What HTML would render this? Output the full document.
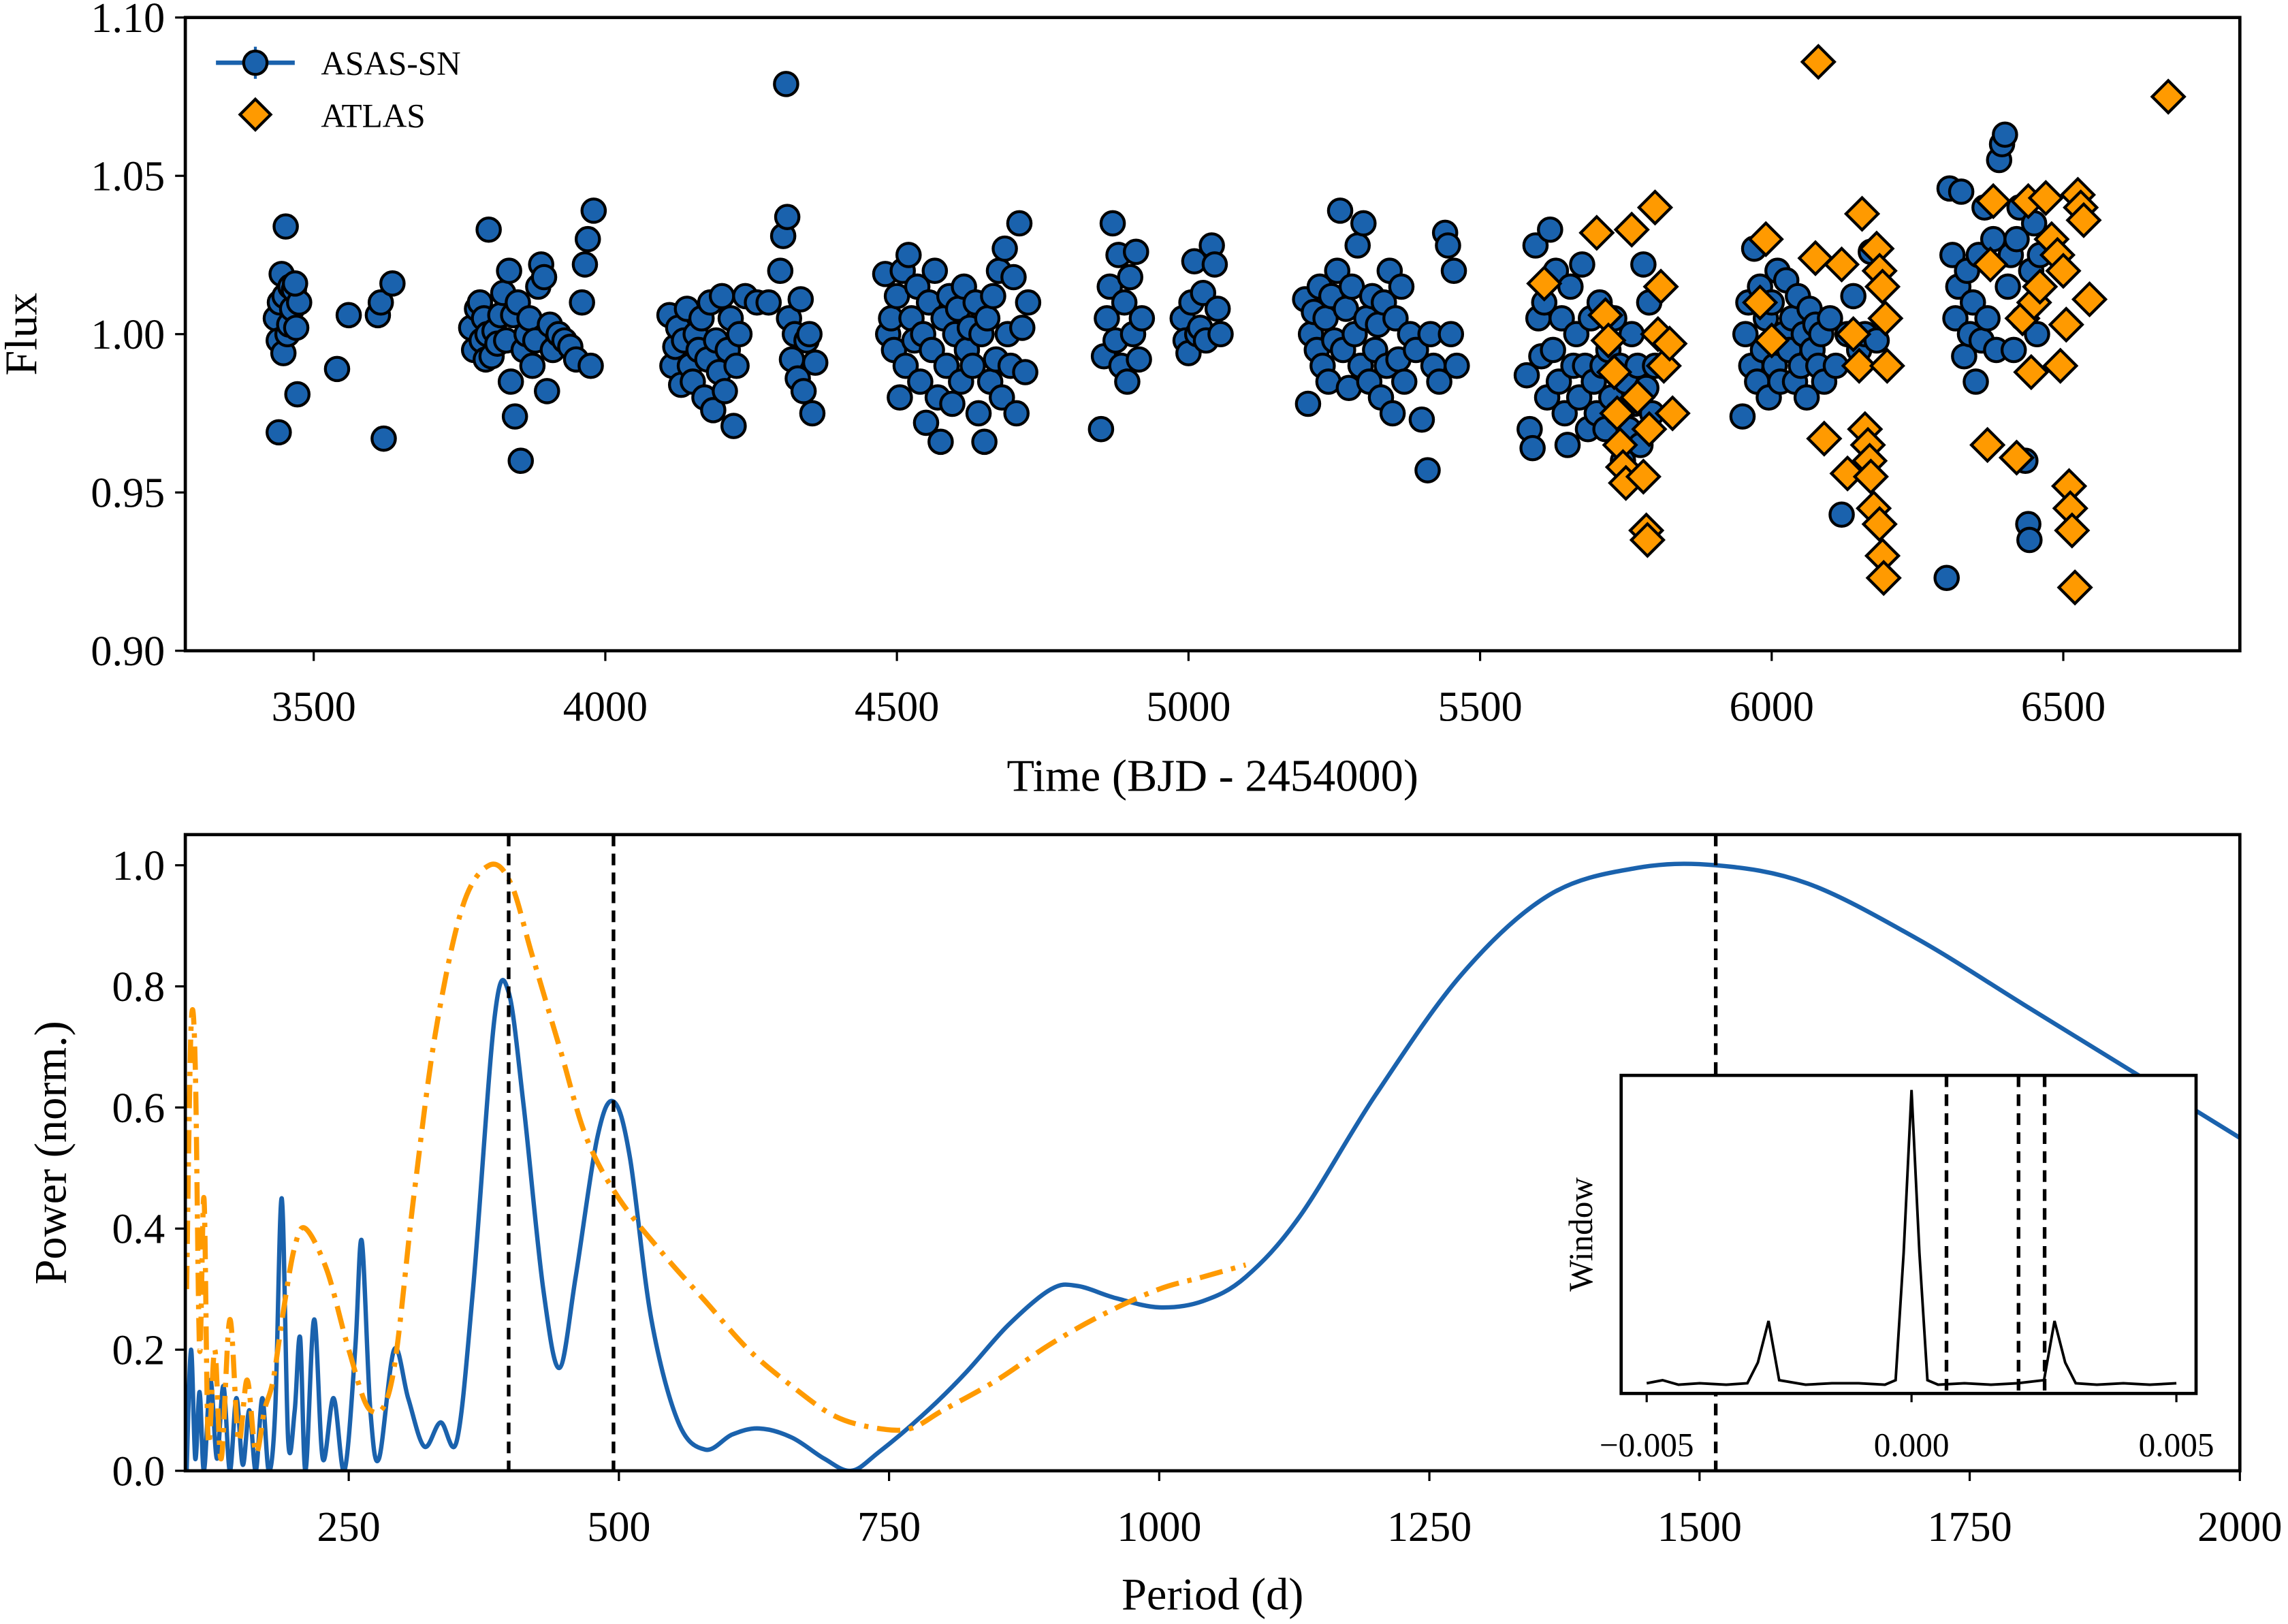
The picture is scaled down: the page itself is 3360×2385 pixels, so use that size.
<!DOCTYPE html>
<html><head><meta charset="utf-8"><style>
html,body{margin:0;padding:0;background:#fff}
svg{display:block}
text{font-family:"Liberation Serif",serif;fill:#000}
</style></head><body>
<svg id="chart" width="3360" height="2385" viewBox="0 0 1568 1113" xmlns="http://www.w3.org/2000/svg">
<rect x="0" y="0" width="1568" height="1113" fill="#fff"/>
<g id="top"></g>
<g id="bot"></g>
<g id="ins"></g>
</svg>
<script>
const asasT=[3435,3440,3442,3445,3448,3450,3452,3455,3458,3460,3463,3466,3470,3472,3440,3475,3468,3540,3560,3610,3620,3615,3635,
3770,3775,3780,3785,3788,3792,3795,3798,3800,3805,3810,3815,3820,3825,3830,3835,3838,3842,3845,3850,3855,3860,3865,3870,3875,3880,3885,3890,3895,3900,3905,3910,3920,3930,3940,3950,3960,3965,3970,3975,3980,
4110,4115,4120,4125,4130,4135,4140,4145,4150,4155,4160,4165,4170,4175,4180,4185,4190,4195,4200,4205,4210,4215,4220,4225,4230,4240,4260,4280,4300,4305,4310,4312,4315,4320,4325,4330,4335,4340,4345,4350,4355,4360,
4480,4485,4490,4495,4500,4505,4510,4515,4520,4525,4530,4535,4540,4545,4550,4555,4560,4565,4570,4575,4580,4585,4590,4595,4600,4605,4610,4615,4620,4625,4630,4635,4640,4645,4650,4655,4660,4665,4670,4675,4680,4685,4690,4695,4700,4705,4710,4715,4720,4725,
4850,4855,4860,4865,4870,4875,4880,4885,4890,4895,4900,4905,4910,4915,4920,4990,4995,5000,5005,5010,5015,5020,5025,5030,5040,5045,5050,5055,
5200,5205,5210,5215,5220,5225,5230,5235,5240,5245,5250,5255,5260,5265,5270,5275,5280,5285,5290,5295,5300,5305,5310,5315,5320,5325,5330,5335,5340,5345,5350,5355,5360,5365,5370,5380,5390,5400,5410,5415,5420,5430,5440,5445,5450,5455,5460,
5580,5585,5590,5595,5600,5605,5610,5615,5620,5625,5630,5635,5640,5645,5650,5655,5660,5665,5670,5675,5680,5685,5690,5695,5700,5705,5710,5715,5720,5725,5730,5735,5740,5745,5750,5755,5760,5765,5770,5775,5780,5785,5790,5795,5800,
5950,5955,5960,5965,5970,5975,5980,5985,5990,5995,6000,6005,6010,6015,6020,6025,6030,6035,6040,6045,6050,6055,6060,6065,6070,6075,6080,6085,6090,6100,6110,6120,6130,6140,6150,6160,6170,6180,
6300,6305,6310,6315,6320,6325,6330,6335,6340,6345,6350,6355,6360,6365,6370,6380,6385,6390,6395,6400,6405,6410,6415,6420,6425,6430,6435,6440,6442,6445,6450,6455,6460];
const asasF=[1.005,0.998,1.01,1.019,0.994,1.012,1.034,1.0,1.003,1.015,1.008,1.014,1.002,0.981,0.969,1.01,1.016,0.989,1.006,1.006,0.967,1.01,1.016,
1.002,0.995,1.008,1.01,0.998,1.005,0.992,1.0,1.033,0.993,1.001,0.997,1.006,1.013,0.998,1.02,0.985,1.006,0.974,1.01,0.96,0.995,1.0,1.005,0.99,0.998,1.015,1.022,1.018,0.982,1.003,0.995,1.0,0.998,0.996,0.992,1.01,1.022,1.03,0.99,1.039,
1.006,0.99,0.996,1.002,0.984,0.998,1.008,0.99,0.985,1.0,0.995,1.005,0.98,0.992,1.01,0.976,0.998,0.988,1.012,0.982,0.995,1.005,0.971,0.99,1.0,1.012,1.01,1.01,1.02,1.031,1.079,1.037,1.005,0.992,1.0,0.986,1.011,0.982,0.998,1.0,0.975,0.991,
1.019,1.0,1.005,0.995,1.012,0.98,1.02,0.99,1.025,1.005,0.998,1.015,0.985,1.0,0.972,1.01,0.995,1.02,0.98,0.966,1.005,0.99,1.012,0.978,1.0,1.008,0.985,1.015,0.995,1.002,0.99,1.01,0.975,1.0,0.966,1.005,0.985,1.012,0.992,1.02,0.98,1.027,1.0,0.99,1.018,0.975,1.035,1.002,0.988,1.01,
0.97,0.993,1.005,1.015,1.035,0.998,1.025,0.99,1.01,0.985,1.018,1.0,1.026,0.992,1.005,1.005,0.998,0.994,1.01,1.023,1.0,1.002,1.013,0.998,1.028,1.022,1.008,1.0,
1.011,0.978,1.0,1.007,0.995,1.015,0.99,1.005,0.985,1.012,0.998,1.02,1.039,0.995,1.008,0.983,1.015,1.0,1.028,0.99,1.035,1.005,0.985,1.012,0.995,1.003,0.98,1.01,0.99,1.02,0.975,1.005,0.992,1.015,0.985,1.0,0.995,0.973,0.957,1.0,0.99,0.985,1.032,1.028,1.0,1.02,0.99,
0.987,0.97,0.964,1.028,1.005,0.993,1.01,0.98,1.033,0.995,1.02,0.985,1.005,0.975,0.965,1.015,0.99,1.0,0.98,1.022,0.99,0.97,1.005,0.985,0.975,1.01,0.99,0.97,0.995,0.98,1.005,0.975,0.99,0.96,0.985,0.97,1.0,0.978,0.99,0.965,1.022,0.983,1.01,0.975,0.99,
0.974,1.0,1.01,0.99,1.027,0.985,1.015,0.995,1.005,0.98,1.01,0.99,1.02,0.985,1.0,1.017,0.995,1.005,0.985,1.012,0.99,1.0,0.98,1.008,0.995,1.003,0.99,1.0,0.985,1.005,0.99,0.943,1.0,1.012,0.995,1.0,1.026,0.998,
0.923,1.046,1.025,1.005,1.015,1.045,0.993,1.02,1.0,1.01,0.985,1.025,0.998,1.04,1.005,1.03,0.995,1.055,1.06,1.063,1.015,1.025,0.995,1.03,1.04,1.005,0.96,0.94,0.935,1.02,1.035,1.0,1.025];
const atlasT=[5610,5700,5715,5720,5730,5735,5740,5745,5750,5760,5770,5780,5785,5787,5790,5800,5805,5810,5815,5825,5830,5980,5990,6000,6075,6080,6090,6120,6130,6140,6150,6155,6160,6165,6168,6170,6175,6180,6185,6190,6192,6195,6198,6185,6190,6370,6375,6380,6420,6430,6440,6445,6450,6460,6470,6480,6490,6495,6500,6505,6510,6512,6515,6520,6525,6530,6535,6545,6680];
const atlasF=[1.016,1.032,1.006,0.998,0.988,0.975,0.965,0.958,0.953,1.033,0.98,0.955,0.938,0.935,0.97,1.04,1.0,1.015,0.99,0.997,0.975,1.01,1.03,0.998,1.024,1.086,0.967,1.022,0.956,1.0,0.99,1.038,0.97,0.965,0.96,0.955,0.945,1.027,1.02,0.93,0.923,1.005,0.99,0.94,1.015,0.965,1.022,1.042,0.961,1.005,1.042,0.988,1.01,1.015,1.043,1.03,1.025,0.99,1.02,1.003,0.952,0.945,0.938,0.92,1.044,1.04,1.036,1.011,1.075];
const topXTicks=[3500,4000,4500,5000,5500,6000,6500];
const topYTicks=["0.90","0.95","1.00","1.05","1.10"];
const blueP=[100,104,108,112,116,122,128,134,140,146,152,158,164,170,176,182,188,194,200,205,210,218,226,236,246,256,262,270,278,292,305,320,335,350,365,385,398,412,430,445,460,480,495,510,530,555,580,605,630,660,690,715,740,780,820,860,900,925,960,1000,1040,1080,1130,1200,1280,1360,1440,1515,1600,1700,1800,1900,2000];
const blueW=[0,0.2,0.02,0.13,0,0.15,0.02,0.14,0,0.12,0.01,0.1,0,0.12,0,0.1,0.45,0.05,0.1,0.22,0,0.25,0.02,0.12,0,0.2,0.38,0.1,0.02,0.2,0.12,0.04,0.08,0.05,0.3,0.75,0.79,0.6,0.3,0.17,0.32,0.55,0.61,0.52,0.25,0.08,0.035,0.06,0.07,0.055,0.02,0,0.03,0.09,0.16,0.24,0.3,0.305,0.285,0.27,0.28,0.32,0.42,0.62,0.82,0.95,0.995,1.0,0.97,0.88,0.77,0.66,0.55];
const orangeP=[100,104,108,112,116,120,126,132,140,148,156,164,172,180,190,200,210,230,250,270,290,310,330,355,380,400,420,445,470,500,540,580,620,660,700,740,770,800,850,900,950,1000,1040,1080];
const orangeW=[0.3,0.73,0.67,0.2,0.45,0.05,0.2,0.02,0.25,0.05,0.15,0.03,0.1,0.15,0.27,0.37,0.4,0.33,0.2,0.1,0.15,0.45,0.72,0.93,1.0,0.97,0.85,0.7,0.55,0.45,0.36,0.28,0.2,0.14,0.09,0.07,0.07,0.1,0.15,0.21,0.26,0.3,0.32,0.34];
const peakPeriods=[398,495,1515];
const botXTicks=[250,500,750,1000,1250,1500,1750,2000];
const botYTicks=["0.0","0.2","0.4","0.6","0.8","1.0"];
const winF=[-0.005,-0.0047,-0.0044,-0.004,-0.0035,-0.0031,-0.0029,-0.0027,-0.0025,-0.002,-0.0015,-0.001,-0.0005,-0.0003,-0.00015,0,0.00015,0.0003,0.0005,0.001,0.0015,0.002,0.0025,0.0027,0.0029,0.0031,0.0035,0.004,0.0045,0.005];
const winW=[0.01,0.02,0.005,0.01,0.005,0.01,0.08,0.22,0.02,0.005,0.01,0.01,0.005,0.02,0.45,1,0.45,0.02,0.005,0.01,0.005,0.01,0.02,0.22,0.08,0.01,0.005,0.01,0.005,0.01];
const winTicks=["\u22120.005","0.000","0.005"];
const winTickVals=[-0.005,0,0.005];

const NS="http://www.w3.org/2000/svg";
function mk(parent,tag,attrs,txt){const e=document.createElementNS(NS,tag);for(const k in attrs)e.setAttribute(k,attrs[k]);if(txt!==undefined)e.textContent=txt;parent.appendChild(e);return e;}
const gTop=document.getElementById('top'),gBot=document.getElementById('bot'),gIns=document.getElementById('ins');
const tx=t=>215+(t-3500)*(1414-215)/3000;
const ty=f=>229+(1-f)*2170;
let clip=mk(gTop,'clipPath',{id:'ct'});mk(clip,'rect',{x:127,y:12,width:1408,height:434});
const pts=mk(gTop,'g',{'clip-path':'url(#ct)'});
for(let i=0;i<asasT.length;i++){const c=mk(pts,'circle',{cx:tx(asasT[i]),cy:ty(asasF[i]),r:8,fill:'#1a62ad',stroke:'#000','stroke-width':2});

}
for(let i=0;i<atlasT.length;i++){const x=tx(atlasT[i]),y=ty(atlasF[i]),s=11;const d=mk(pts,'polygon',{points:`${x},${y-s} ${x+s},${y} ${x},${y+s} ${x-s},${y}`,fill:'#ff9a00',stroke:'#000','stroke-width':2});

}
mk(gTop,'rect',{x:127,y:12,width:1408,height:434,fill:'none',stroke:'#000','stroke-width':2.2});
topXTicks.forEach(v=>{const x=tx(v);mk(gTop,'line',{x1:x,x2:x,y1:446,y2:453,stroke:'#000','stroke-width':1.5});const t=mk(gTop,'text',{x:x,y:494,'font-size':29,'text-anchor':'middle'},String(v));

});
topYTicks.forEach(v=>{const y=ty(+v);mk(gTop,'line',{x1:120,x2:127,y1:y,y2:y,stroke:'#000','stroke-width':1.5});const t=mk(gTop,'text',{x:113,y:y+10,'font-size':29,'text-anchor':'end'},v);

});
mk(gTop,'text',{x:831,y:542,'font-size':31,'text-anchor':'middle',},'Time (BJD - 2454000)');
mk(gTop,'text',{x:0,y:0,'font-size':31,'text-anchor':'middle',transform:'translate(25,229) rotate(-90)',},'Flux');
const lg=mk(gTop,'g',{});
mk(lg,'line',{x1:148,x2:202,y1:43,y2:43,stroke:'#1a62ad','stroke-width':3});
mk(lg,'line',{x1:175,x2:175,y1:32,y2:54,stroke:'#1a62ad','stroke-width':2});
mk(lg,'circle',{cx:175,cy:43,r:8,fill:'#1a62ad',stroke:'#000','stroke-width':2});
mk(lg,'text',{x:220,y:51,'font-size':23},'ASAS-SN');
mk(lg,'polygon',{points:'175,68 185.5,78.5 175,89 164.5,78.5',fill:'#ff9a00',stroke:'#000','stroke-width':2});
mk(lg,'text',{x:220,y:87,'font-size':23},'ATLAS');
const bx=p=>239+(p-250)*(1535-239)/1750;
const by=w=>1008-w*415;
clip=mk(gBot,'clipPath',{id:'cb'});mk(clip,'rect',{x:127,y:572,width:1408,height:436});
const cg=mk(gBot,'g',{'clip-path':'url(#cb)'});
const path=(P,W,fx,fy)=>P.map((p,i)=>(i?'L':'M')+fx(p).toFixed(1)+','+fy(W[i]).toFixed(1)).join(' ');
function spline(P,W,fx,fy){const q=P.map((p,i)=>[fx(p),fy(W[i])]);let d='M'+q[0][0].toFixed(1)+','+q[0][1].toFixed(1);
for(let i=0;i<q.length-1;i++){const p0=q[Math.max(0,i-1)],p1=q[i],p2=q[i+1],p3=q[Math.min(q.length-1,i+2)];
const c1=[p1[0]+(p2[0]-p0[0])/6,p1[1]+(p2[1]-p0[1])/6],c2=[p2[0]-(p3[0]-p1[0])/6,p2[1]-(p3[1]-p1[1])/6];
d+=` C${c1[0].toFixed(1)},${c1[1].toFixed(1)} ${c2[0].toFixed(1)},${c2[1].toFixed(1)} ${p2[0].toFixed(1)},${p2[1].toFixed(1)}`;}return d;}
mk(cg,'path',{d:spline(blueP,blueW,bx,by),fill:'none',stroke:'#1a62ad','stroke-width':3,});
mk(cg,'path',{d:spline(orangeP,orangeW,bx,by),fill:'none',stroke:'#ff9a00','stroke-width':3.5,'stroke-dasharray':'16 6 3 6',});
peakPeriods.forEach(p=>{const l=mk(cg,'line',{x1:bx(p),x2:bx(p),y1:572,y2:1008,stroke:'#000','stroke-width':2.5,'stroke-dasharray':'8 5'});

});
mk(gBot,'rect',{x:127,y:572,width:1408,height:436,fill:'none',stroke:'#000','stroke-width':2.2});
botXTicks.forEach(v=>{const x=bx(v);mk(gBot,'line',{x1:x,x2:x,y1:1008,y2:1015,stroke:'#000','stroke-width':1.5});const t=mk(gBot,'text',{x:x,y:1056,'font-size':29,'text-anchor':'middle'},String(v));

});
botYTicks.forEach(v=>{const y=by(+v);mk(gBot,'line',{x1:120,x2:127,y1:y,y2:y,stroke:'#000','stroke-width':1.5});const t=mk(gBot,'text',{x:113,y:y+10,'font-size':29,'text-anchor':'end'},v);

});
mk(gBot,'text',{x:831,y:1103,'font-size':31,'text-anchor':'middle',},'Period (d)');
mk(gBot,'text',{x:0,y:0,'font-size':31,'text-anchor':'middle',transform:'translate(45,790) rotate(-90)',},'Power (norm.)');
const ix=f=>1310+f*36300;
const iy=w=>950-w*203;
mk(gIns,'rect',{x:1111,y:737,width:394,height:218,fill:'#fff',stroke:'none'});
clip=mk(gIns,'clipPath',{id:'ci'});mk(clip,'rect',{x:1111,y:737,width:394,height:218});
const ig=mk(gIns,'g',{'clip-path':'url(#ci)'});
mk(ig,'path',{d:path(winF,winW,ix,iy),fill:'none',stroke:'#000','stroke-width':1.8,});
peakPeriods.forEach(p=>{const x=ix(1/p);const l=mk(ig,'line',{x1:x,x2:x,y1:737,y2:955,stroke:'#000','stroke-width':2.5,'stroke-dasharray':'8 5'});

});
mk(gIns,'rect',{x:1111,y:737,width:394,height:218,fill:'none',stroke:'#000','stroke-width':2.2});
winTickVals.forEach((v,i)=>{const x=ix(v);mk(gIns,'line',{x1:x,x2:x,y1:955,y2:961,stroke:'#000','stroke-width':1.5});const t=mk(gIns,'text',{x:x,y:998,'font-size':23,'text-anchor':'middle'},winTicks[i]);

});
mk(gIns,'text',{x:0,y:0,'font-size':23,'text-anchor':'middle',transform:'translate(1091,846) rotate(-90)',},'Window');
</script>
</body></html>
